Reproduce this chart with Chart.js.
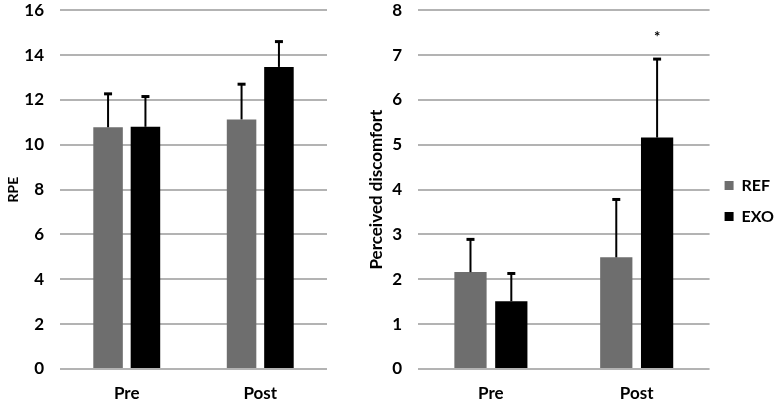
<!DOCTYPE html>
<html><head><meta charset="utf-8">
<script src="https://cdn.jsdelivr.net/npm/chart.js@4/dist/chart.umd.min.js"></script>
<style>
html,body{margin:0;padding:0;background:#fff;width:774px;height:402px;overflow:hidden}
#c1{position:absolute;left:0;top:0}
#c2{position:absolute;left:350px;top:0}
</style></head><body>
<canvas id="c1" width="330" height="402"></canvas>
<canvas id="c2" width="424" height="402"></canvas>
<script>
const categories = ['Pre', 'Post'];
const seriesNames = ['REF', 'EXO'];
const rpeRef = [10.78, 11.13];
const rpeExo = [10.8, 13.47];
const rpeRefSd = [1.49, 1.57];
const rpeExoSd = [1.35, 1.13];
const pdRef = [2.16, 2.49];
const pdExo = [1.51, 5.16];
const pdRefSd = [0.73, 1.29];
const pdExoSd = [0.62, 1.75];
const sigMarks = [['', ''], ['', '*']]; // [REF, EXO] marks per category

const REFC = '#6e6e6e', EXOC = '#000000', GRID = '#b3b3b3';
const FONT = 'Lato, "Liberation Sans", sans-serif';
const W = 'bold';
Chart.defaults.font.family = FONT;
Chart.defaults.color = '#000';
Chart.defaults.animation = false;

const errPlugin = {
  id: 'errbars',
  afterDatasetsDraw(chart) {
    const ctx = chart.ctx, y = chart.scales.y;
    chart.data.datasets.forEach((ds, di) => {
      const meta = chart.getDatasetMeta(di);
      meta.data.forEach((bar, i) => {
        const top = ds.data[i] + ds.sd[i];
        const yt = y.getPixelForValue(top);
        ctx.save();
        ctx.strokeStyle = '#000';
        ctx.lineWidth = 2;
        ctx.beginPath(); ctx.moveTo(bar.x, bar.y); ctx.lineTo(bar.x, yt); ctx.stroke();
        ctx.lineWidth = 3;
        ctx.beginPath(); ctx.moveTo(bar.x - 4, yt); ctx.lineTo(bar.x + 4, yt); ctx.stroke();
        const m = ds.marks ? ds.marks[i] : '';
        if (m) {
          ctx.fillStyle = '#000';
          ctx.font = W + ' 15px ' + FONT;
          ctx.textAlign = 'center'; ctx.textBaseline = 'middle';
          ctx.fillText(m, bar.x, yt - 22);
        }
        ctx.restore();
      });
    });
  }
};

function makeChart(id, refVals, exoVals, refSd, exoSd, ymax, step, title, titleSize, titlePad, legend, padLeft, yWidth, marks) {
  return new Chart(document.getElementById(id), {
    type: 'bar',
    data: {
      labels: categories,
      datasets: [
        { label: seriesNames[0], data: refVals, sd: refSd, marks: marks ? marks.map(m => m[0]) : null,
          backgroundColor: REFC, categoryPercentage: 0.56, barPercentage: 0.79 },
        { label: seriesNames[1], data: exoVals, sd: exoSd, marks: marks ? marks.map(m => m[1]) : null,
          backgroundColor: EXOC, categoryPercentage: 0.56, barPercentage: 0.79 }
      ]
    },
    options: {
      responsive: false,
      layout: { padding: { left: padLeft, right: legend ? -10 : 3, top: 0, bottom: 0 } },
      plugins: {
        tooltip: { enabled: false },
        legend: legend ? {
          display: true, position: 'right',
          labels: { boxWidth: 9, boxHeight: 9, padding: 15, color: '#000',
                    font: { size: 16, weight: W, family: FONT } }
        } : { display: false }
      },
      scales: {
        x: {
          grid: { display: false, drawTicks: false },
          border: { display: false },
          ticks: { padding: 14, font: { size: 17, weight: W }, color: '#000' },
          afterFit: s => { s.height = 33; }
        },
        y: {
          min: 0, max: ymax,
          grid: { color: GRID, lineWidth: 2, drawTicks: true, tickLength: 16, tickColor: 'rgba(0,0,0,0)' },
          border: { display: false },
          ticks: { stepSize: step, padding: 0, font: { size: 17, weight: W }, color: '#000' },
          title: { display: true, text: title, color: '#000', padding: titlePad,
                   font: { size: titleSize, weight: W } },
          afterFit: s => { s.width = yWidth; }
        }
      }
    },
    plugins: [errPlugin]
  });
}

makeChart('c1', rpeRef, rpeExo, rpeRefSd, rpeExoSd, 16, 2, 'RPE', 14, { top: 5, bottom: 0 }, false, 0, 60, null);
makeChart('c2', pdRef, pdExo, pdRefSd, pdExoSd, 8, 1, 'Perceived discomfort', 17, { top: 0, bottom: 0 }, true, 16, 52, sigMarks);
</script>
</body></html>
